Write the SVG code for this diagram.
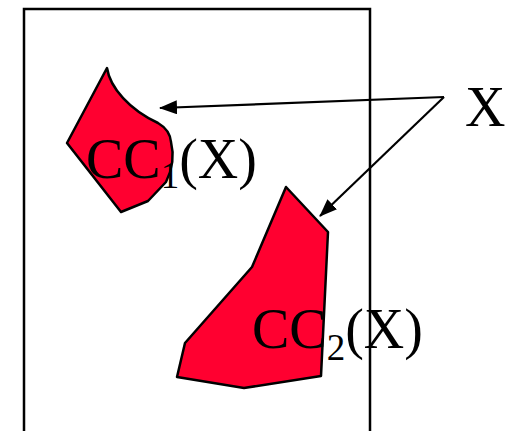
<svg xmlns="http://www.w3.org/2000/svg" width="519" height="431" viewBox="0 0 519 431">
<defs>
<style>
.region{fill:#FF0030;stroke:#000;stroke-width:2.5;stroke-linejoin:round}
.lbl{font-family:"Liberation Serif","Times New Roman",serif;font-size:56px;fill:#000}
.sub{font-size:37px}
.conn{stroke:#000;stroke-width:2.2;fill:none}
</style>
<marker id="ah" viewBox="0 0 18 14" refX="17" refY="7" markerWidth="18" markerHeight="14" markerUnits="userSpaceOnUse" orient="auto">
<path d="M0,0 L18,7 L0,14 Z" fill="#000"/>
</marker>
</defs>
<rect x="24" y="9" width="346" height="440" fill="none" stroke="#000" stroke-width="2.5"/>
<g id="cc1">
<path class="region" d="M107,68 C110,88 130,110 158,123 Q170,130 171,142 Q176,162 166,182 L148,201 L121,212 L67,143 Z"/>
<text class="lbl" x="86" y="178">CC<tspan class="sub" dy="10">1</tspan><tspan dy="-10">(X)</tspan></text>
</g>
<g id="cc2">
<path class="region" d="M286,187 L328,232 L321,376 L244,388 L177,377 L185,343 L252,267 Z"/>
<text class="lbl" x="252" y="348">CC<tspan class="sub" dy="12">2</tspan><tspan dy="-12">(X)</tspan></text>
</g>
<g id="x">
<text class="lbl" x="465" y="126">X</text>
</g>
<g id="connectors">
<line class="conn" x1="444" y1="97" x2="160" y2="108" marker-end="url(#ah)"/>
<line class="conn" x1="444" y1="97" x2="320" y2="216" marker-end="url(#ah)"/>
</g>
</svg>
